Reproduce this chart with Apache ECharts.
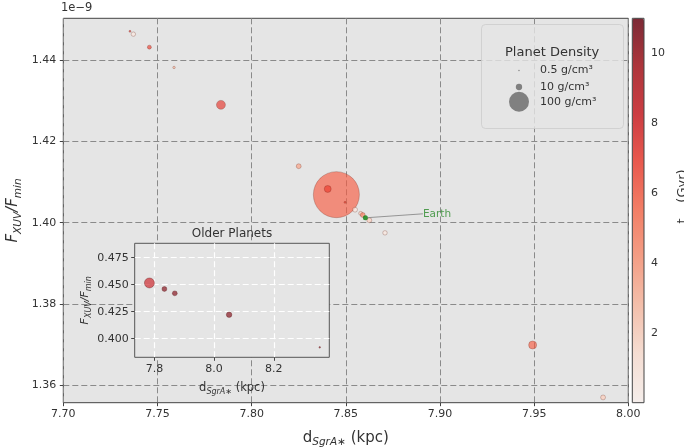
<!DOCTYPE html>
<html><head><meta charset="utf-8">
<script src="https://cdn.jsdelivr.net/npm/echarts@6/dist/echarts.min.js"></script>
<style>html,body{margin:0;padding:0;background:#fff}#c{width:684px;height:448px}</style>
</head><body><div id="c"></div>
<script>
// ---- data (main panel) ----
const mainDist    = [7.8450, 7.7354, 7.7372, 7.7457, 7.7588, 7.7837, 7.8250, 7.8404, 7.8496, 7.8549, 7.8579, 7.8590, 7.8625, 7.8708, 7.9492, 7.9866];
const mainFlux    = [1.4069, 1.4471, 1.4464, 1.4432, 1.4382, 1.4290, 1.4139, 1.4083, 1.4050, 1.4032, 1.4023, 1.4019, 1.4006, 1.3975, 1.3699, 1.3570];
const mainAge     = [6.0, 7.5, 0.8, 7.0, 3.0, 7.3, 3.8, 7.0, 7.0, 0.8, 2.0, 5.0, 2.0, 0.8, 6.0, 2.2];
const mainDensity = [530, 1, 5, 4, 1.5, 20, 6, 12, 1, 6, 4, 6, 6, 5, 16, 6];
// ---- data (inset: older planets) ----
const insetDist    = [7.7833, 7.8335, 7.8683, 8.0503, 8.354];
const insetFlux    = [0.4516, 0.4460, 0.4420, 0.4222, 0.3920];
const insetAge     = [8.3, 10.5, 10.5, 10.5, 10.2];
const insetDensity = [25, 6, 6, 7.5, 0.6];
// ---- Earth ----
const earthDist = [7.8604];
const earthFlux = [1.4012];
// ---- ticks ----
const xTicks = [7.70, 7.75, 7.80, 7.85, 7.90, 7.95, 8.00];
const yTicks = [1.36, 1.38, 1.40, 1.42, 1.44];
const cbTicks = [2, 4, 6, 8, 10];
const insetXTicks = [7.8, 8.0, 8.2];
const insetYTicks = [0.400, 0.425, 0.450, 0.475];
const legendDensities = [0.5, 10, 100];
const legendLabels = ['0.5 g/cm³', '10 g/cm³', '100 g/cm³'];

const FONT = 'DejaVu Sans';
const TXT = '#333';
const sizeOf = rho => 2 * Math.sqrt(rho);
const zip = (xs, ys, a, d) => xs.map((x, i) => [x, ys[i], a[i], d[i]]);

const reds = ['rgba(255,245,240,0.8)','rgba(254,224,210,0.8)','rgba(252,187,161,0.8)','rgba(252,146,114,0.8)','rgba(251,106,74,0.8)','rgba(239,59,44,0.8)','rgba(203,24,29,0.8)','rgba(165,15,21,0.8)','rgba(103,0,13,0.8)'];

const chart = echarts.init(document.getElementById('c'), null, {renderer: 'canvas'});

const subRich = (big, small) => ({
  i: {fontSize: big, fontStyle: 'italic', fontFamily: FONT, color: TXT, lineHeight: big + 5},
  n: {fontSize: big, fontFamily: FONT, color: TXT, lineHeight: big + 5},
  s: {fontSize: small, fontStyle: 'italic', fontFamily: FONT, color: TXT, lineHeight: small + 2, verticalAlign: 'bottom'}
});

const tickStyle = {show: true, inside: false, length: 3.5, lineStyle: {color: '#444', width: 1}};

// legend marker centre x and text start x
const LEG_CX = 519, LEG_TX = 540;

const option = {
  animation: false,
  textStyle: {fontFamily: FONT},
  title: [
    {text: '1e−9', left: 61, top: 2, padding: 0, textStyle: {fontSize: 11.5, fontWeight: 'normal', color: TXT, fontFamily: FONT}},
    {text: 'Older Planets', left: 232, top: 228, textAlign: 'center', padding: 0, textStyle: {fontSize: 12, fontWeight: 'normal', color: TXT, fontFamily: FONT}},
    {text: 'Planet Density', left: 481, top: 24, z: 3, padding: [22, 24, 70, 24],
     backgroundColor: 'rgba(229,229,229,0.8)', borderColor: 'rgba(204,204,204,0.8)', borderWidth: 1, borderRadius: 4,
     textStyle: {fontSize: 13, fontWeight: 'normal', color: TXT, fontFamily: FONT}}
  ],
  legend: legendDensities.map((rho, i) => {
    const h = sizeOf(rho);
    return {
      data: [legendLabels[i]], selectedMode: false, icon: 'circle', orient: 'vertical',
      left: LEG_CX - h / 2, top: [65, 81.5, 91.7][i], padding: 0, z: 5,
      itemWidth: h, itemHeight: h, itemGap: 0,
      itemStyle: {color: '#808080', opacity: 1},
      textStyle: {fontSize: 11, color: TXT, fontFamily: FONT, padding: [0, 0, 0, LEG_TX - (LEG_CX + h / 2 + 5)]}
    };
  }),
  grid: [
    {left: 63.3, top: 18.3, width: 565, height: 384.4, show: true, backgroundColor: '#e5e5e5', borderColor: '#444', borderWidth: 1, outerBoundsMode: 'none', z: 0},
    {left: 134.7, top: 243.3, width: 194.6, height: 114, show: true, backgroundColor: '#e5e5e5', borderColor: '#555', borderWidth: 1, outerBoundsMode: 'none', z: 5},
    {left: 632.3, top: 18.3, width: 11.7, height: 384.4, show: true, backgroundColor: 'transparent', borderColor: '#444', borderWidth: 1, outerBoundsMode: 'none', z: 10}
  ],
  xAxis: [
    {gridIndex: 0, type: 'value', min: 7.70, max: 8.00, axisLine: {show: false},
     axisTick: Object.assign({customValues: xTicks}, tickStyle),
     axisLabel: {customValues: xTicks, formatter: v => v.toFixed(2), fontSize: 11, color: TXT, margin: 6, fontFamily: FONT},
     splitLine: {show: true, lineStyle: {color: '#8a8a8a', type: [6, 3], width: 1}},
     name: '{n|d}{s|SgrA∗}{n| (kpc)}', nameLocation: 'middle', nameGap: 25,
     nameTextStyle: {rich: subRich(15, 10.5)}},
    {gridIndex: 1, type: 'value', min: 7.734, max: 8.386, z: 5, axisLine: {show: false},
     axisTick: Object.assign({customValues: insetXTicks}, tickStyle),
     axisLabel: {customValues: insetXTicks, formatter: v => v.toFixed(1), fontSize: 11, color: TXT, margin: 6, fontFamily: FONT},
     splitLine: {show: true, lineStyle: {color: '#ffffff', type: [6, 3], width: 1.2}},
     name: '{n|d}{s|SgrA∗}{n| (kpc)}', nameLocation: 'middle', nameGap: 22,
     nameTextStyle: {rich: subRich(11.5, 8)}},
    {gridIndex: 2, type: 'value', show: false, min: 0, max: 1}
  ],
  yAxis: [
    {gridIndex: 0, type: 'value', min: 1.3557, max: 1.4503, axisLine: {show: false},
     axisTick: Object.assign({customValues: yTicks}, tickStyle),
     axisLabel: {customValues: yTicks, formatter: v => v.toFixed(2), fontSize: 11, color: TXT, margin: 7, fontFamily: FONT},
     splitLine: {show: true, lineStyle: {color: '#8a8a8a', type: [6, 3], width: 1}},
     name: '{i|F}{s|XUV}{i|/F}{s|min}', nameLocation: 'middle', nameGap: 40, nameMoveOverlap: false,
     nameTextStyle: {rich: subRich(15, 10.5)}},
    {gridIndex: 1, type: 'value', min: 0.3828, max: 0.4883, z: 5, axisLine: {show: false},
     axisTick: Object.assign({customValues: insetYTicks}, tickStyle),
     axisLabel: {customValues: insetYTicks, formatter: v => v.toFixed(3), fontSize: 11, color: TXT, margin: 6, fontFamily: FONT},
     splitLine: {show: true, lineStyle: {color: '#ffffff', type: [6, 3], width: 1.2}},
     name: '{i|F}{s|XUV}{i|/F}{s|min}', nameLocation: 'middle', nameGap: 42,
     nameTextStyle: {rich: subRich(11, 8)}},
    {gridIndex: 2, type: 'value', position: 'right', min: 0, max: 11, axisLine: {show: false},
     axisTick: Object.assign({customValues: cbTicks}, tickStyle),
     axisLabel: {customValues: cbTicks, fontSize: 11, color: TXT, margin: 7, fontFamily: FONT},
     splitLine: {show: false},
     name: '{n|t}{s|⊙}{n|  (Gyr)}', nameLocation: 'middle', nameRotate: 90, nameGap: 30,
     nameTextStyle: {rich: subRich(13, 9), padding: [0, 0, 0, 28]}}
  ],
  visualMap: {
    type: 'continuous', min: 0, max: 11, dimension: 2, seriesIndex: [0, 1],
    orient: 'vertical', left: 632.3, top: 18.3, itemWidth: 11.7, itemHeight: 384.4,
    padding: 0, calculable: false, hoverLink: false, text: null, showLabel: false,
    inRange: {color: reds}
  },
  series: [
    {type: 'scatter', xAxisIndex: 0, yAxisIndex: 0, z: 2,
     data: zip(mainDist, mainFlux, mainAge, mainDensity),
     symbolSize: v => sizeOf(v[3]),
     itemStyle: {borderColor: 'rgba(100,30,20,0.4)', borderWidth: 0.8}},
    {type: 'scatter', xAxisIndex: 1, yAxisIndex: 1, z: 6,
     data: zip(insetDist, insetFlux, insetAge, insetDensity),
     symbolSize: v => sizeOf(v[3]),
     itemStyle: {borderColor: 'rgba(80,10,10,0.5)', borderWidth: 0.8}},
    {type: 'scatter', xAxisIndex: 0, yAxisIndex: 0, z: 4, name: 'Earth',
     data: earthDist.map((x, i) => [x, earthFlux[i]]),
     symbolSize: 5, itemStyle: {color: '#0a7d0a'},
     label: {show: true, position: 'right', formatter: 'Earth', color: '#2a8a2a', fontSize: 10.5, fontFamily: FONT},
     labelLayout: {dx: 50, dy: -4},
     labelLine: {show: true, lineStyle: {color: '#808080', width: 0.8}}},
    ...legendLabels.map(n => ({type: 'scatter', name: n, xAxisIndex: 0, yAxisIndex: 0, data: [], itemStyle: {color: '#808080'}}))
  ]
};
chart.setOption(option);
</script>
</body></html>
